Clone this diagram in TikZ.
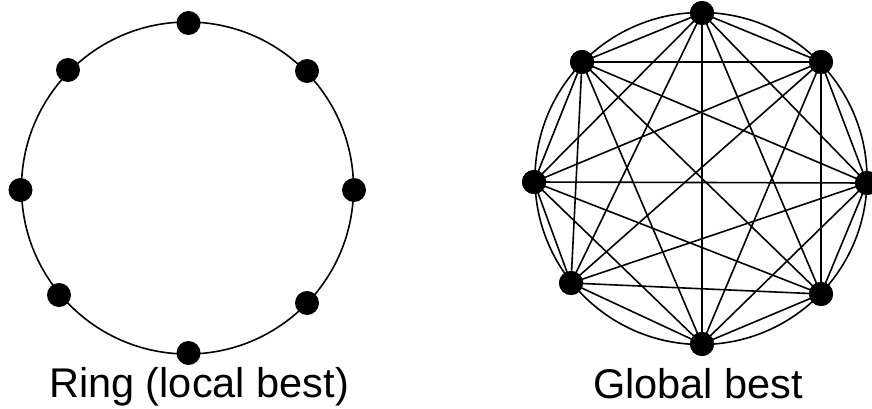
\documentclass[tikz,border=0pt]{standalone}
\usepackage{fontspec}
\setmainfont{Liberation Sans}
\begin{document}
\begin{tikzpicture}[x=1pt,y=-1pt,
  dot/.style={circle,fill=black,inner sep=0pt,minimum size=24pt},
  ring/.style={line width=1.6pt},
  edge/.style={line width=1.6pt},
  lbl/.style={anchor=base,inner sep=0pt,font=\fontsize{41.5}{48}\selectfont}]
\useasboundingbox (0,0) rectangle (872,409);
% Left ring
\draw[ring] (187.5,188) circle (166);
\node[dot] (a1) at (188.5,23) {};
\node[dot] (a2) at (307,71) {};
\node[dot] (a3) at (354,190) {};
\node[dot] (a4) at (307,303) {};
\node[dot] (a5) at (188.5,353) {};
\node[dot] (a6) at (59,295) {};
\node[dot] (a7) at (20.5,190) {};
\node[dot] (a8) at (68,70) {};
\node[lbl] (la) at (199,397) {Ring (local best)};
% Right complete graph
\draw[ring] (701,178.5) circle (166);
\node[dot] (b1) at (702,13) {};
\node[dot] (b2) at (821,62) {};
\node[dot] (b3) at (867,183) {};
\node[dot] (b4) at (821,294) {};
\node[dot] (b5) at (702,344) {};
\node[dot] (b6) at (571,283) {};
\node[dot] (b7) at (534,182) {};
\node[dot] (b8) at (582,62) {};
\foreach \i in {1,...,8}{
  \foreach \j in {1,...,8}{
    \ifnum\i<\j
      \draw[edge] (b\i.center) -- (b\j.center);
    \fi
  }
}
\foreach \i in {1,...,8}{\node[dot] at (b\i) {};}
\node[lbl] (lb) at (698,398) {Global best};
\end{tikzpicture}
\end{document}
